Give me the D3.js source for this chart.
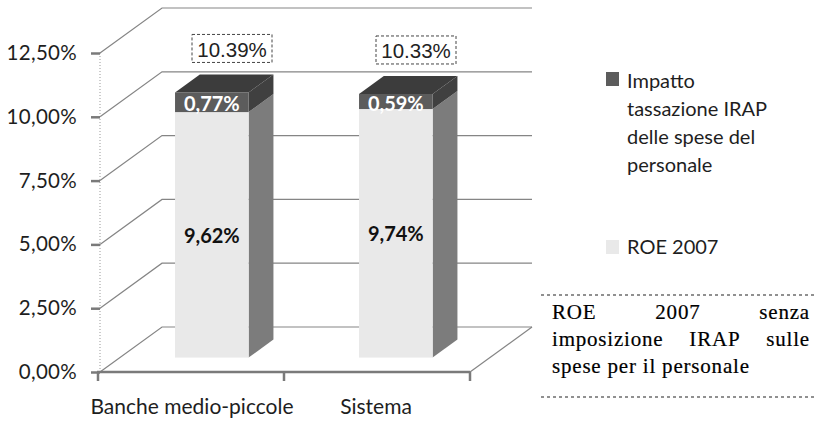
<!DOCTYPE html>
<html>
<head>
<meta charset="utf-8">
<script src="https://cdn.jsdelivr.net/npm/d3@7"></script>
<style>
  html, body { margin: 0; padding: 0; background: #fff; }
  svg { display: block; }
</style>
</head>
<body>
<svg id="chart" width="816" height="424"></svg>
<script>
// Data
const categories = ["Banche medio-piccole", "Sistema"];
const roe2007 = [9.62, 9.74];
const irapImpact = [0.77, 0.59];
const yTicks = [0, 2.5, 5, 7.5, 10, 12.5];
const legendIrap = ["Impatto", "tassazione IRAP", "delle spese del", "personale"];
const legendRoe = "ROE 2007";
const noteLines = [["ROE", "2007", "senza"], ["imposizione", "IRAP", "sulle"], ["spese per il personale"]];

const svg = d3.select("#chart");
const itLocale = d3.formatLocale({ decimal: ",", thousands: ".", grouping: [3], currency: ["", "€"] });
const fmtIt = v => itLocale.format(".2f")(v) + "%";
const fmtTotal = v => d3.format(".2f")(v) + "%";

// Scales (front plane)
const y = d3.scaleLinear().domain([0, 12.5]).range([372, 53]);
const x = d3.scaleBand().domain(categories).range([100, 468]).paddingInner(0);

// Depth projection of the 3D box
const DX = 62, DY = -45;
const proj = (px, py, d) => [px + DX * d, py + DY * d];
const dFront = 0.32, dBack = 0.72;
const barW = x.bandwidth() * 0.4;

const gridColor = "#858585";
const axisColor = "#7a7a7a";
const textColor = "#1e1e1e";

// Walls: gridlines running along the side wall and across the back wall
const grid = svg.append("g");
yTicks.forEach(t => {
  const a = proj(x.range()[0], y(t), 0);
  const b = proj(x.range()[0], y(t), 1);
  const c = [DX + 470, b[1]];
  grid.append("path")
    .attr("d", d3.line()([a, b, c]))
    .attr("fill", "none")
    .attr("stroke", gridColor)
    .attr("stroke-width", 1.2);
});
// Floor right edge
{
  const a = [x.range()[1] + 2, y(0)];
  const b = proj(x.range()[1] + 2, y(0), 1);
  grid.append("line")
    .attr("x1", a[0]).attr("y1", a[1]).attr("x2", b[0]).attr("y2", b[1])
    .attr("stroke", gridColor).attr("stroke-width", 1.2);
}
// Side wall front edge (dotted)
grid.append("line")
  .attr("x1", 100).attr("x2", 100)
  .attr("y1", y(12.5)).attr("y2", y(0))
  .attr("stroke", "#999").attr("stroke-width", 1)
  .attr("stroke-dasharray", "1,2");

// Bars
const colors = {
  roe: { front: "#e9e9e9", side: "#7c7c7c", top: "#d4d4d4" },
  irap: { front: "#5c5c5c", side: "#404040", top: "#3c3c3c" }
};
const bars = svg.append("g");
categories.forEach((cat, i) => {
  const cx = x(cat) + x.bandwidth() / 2;
  const x0 = cx - barW / 2, x1 = cx + barW / 2;
  const segs = [
    { key: "roe", v0: 0, v1: roe2007[i] },
    { key: "irap", v0: roe2007[i], v1: roe2007[i] + irapImpact[i] }
  ];
  segs.forEach((s, k) => {
    const c = colors[s.key];
    const fTL = proj(x0, y(s.v1), dFront), fTR = proj(x1, y(s.v1), dFront);
    const fBR = proj(x1, y(s.v0), dFront);
    const bTL = proj(x0, y(s.v1), dBack), bTR = proj(x1, y(s.v1), dBack);
    const bBR = proj(x1, y(s.v0), dBack);
    // side face
    bars.append("path").attr("d", d3.line()([fTR, bTR, bBR, fBR]) + "Z").attr("fill", c.side);
    // top face
    if (k === segs.length - 1) {
      bars.append("path").attr("d", d3.line()([fTL, fTR, bTR, bTL]) + "Z").attr("fill", c.top);
    }
    // front face
    bars.append("rect")
      .attr("x", fTL[0]).attr("y", fTL[1])
      .attr("width", fTR[0] - fTL[0]).attr("height", fBR[1] - fTR[1])
      .attr("fill", c.front);
  });

  // Segment labels
  const fx = proj(cx, 0, dFront)[0];
  bars.append("text")
    .attr("x", fx).attr("y", proj(0, y(roe2007[i] / 2), dFront)[1])
    .attr("text-anchor", "middle").attr("dominant-baseline", "central")
    .attr("font-family", "Lato, sans-serif").attr("font-weight", "bold")
    .attr("font-size", 20).attr("fill", "#111")
    .text(fmtIt(roe2007[i]));
  bars.append("text")
    .attr("x", fx).attr("y", proj(0, y(roe2007[i] + irapImpact[i] / 2), dFront)[1] + 1)
    .attr("text-anchor", "middle").attr("dominant-baseline", "central")
    .attr("font-family", "Lato, sans-serif").attr("font-weight", "bold")
    .attr("font-size", 20).attr("fill", "#fff")
    .text(fmtIt(irapImpact[i]));

  // Total label in a dashed box
  const total = roe2007[i] + irapImpact[i];
  const topBack = proj(cx, y(total), dBack);
  const bx = cx + 40, bh = 28, bw = 80;
  const by = topBack[1] - 12 - bh;
  bars.append("rect")
    .attr("x", bx - bw / 2).attr("y", by).attr("width", bw).attr("height", bh)
    .attr("fill", "#fff").attr("stroke", "#444").attr("stroke-width", 1)
    .attr("stroke-dasharray", "3,2");
  bars.append("text")
    .attr("x", bx).attr("y", by + bh / 2 + 1)
    .attr("text-anchor", "middle").attr("dominant-baseline", "central")
    .attr("font-family", "Liberation Sans, Arial, sans-serif")
    .attr("font-size", 20.5).attr("fill", "#222")
    .text(fmtTotal(total));
});

// Y axis
const yAxis = svg.append("g").attr("transform", "translate(100,0)")
  .call(d3.axisLeft(y).tickValues(yTicks).tickFormat(fmtIt).tickSize(9).tickPadding(14));
yAxis.select(".domain").remove();
yAxis.selectAll(".tick line").attr("stroke", axisColor).attr("stroke-width", 2.5);
yAxis.selectAll(".tick text")
  .attr("font-family", "Lato, sans-serif").attr("font-size", 20.5).attr("fill", textColor)
  .attr("letter-spacing", 0.3);

// X axis
const xAxis = svg.append("g").attr("transform", `translate(0,${y(0)})`)
  .call(d3.axisBottom(x).tickSize(0).tickPadding(27));
xAxis.select(".domain").remove();
xAxis.append("line")
  .attr("x1", 97).attr("x2", x.range()[1] + 2).attr("y1", 0).attr("y2", 0)
  .attr("stroke", axisColor).attr("stroke-width", 2.5);
[x.range()[0] - 2, x(categories[1]), x.range()[1] + 2].forEach(tx => {
  xAxis.append("line").attr("x1", tx).attr("x2", tx).attr("y1", 0).attr("y2", 9)
    .attr("stroke", axisColor).attr("stroke-width", 2.5);
});
xAxis.selectAll(".tick text")
  .attr("font-family", "Lato, sans-serif").attr("font-size", 21).attr("fill", textColor);

// Legend
const legend = svg.append("g");
legend.append("rect").attr("x", 606).attr("y", 72).attr("width", 13).attr("height", 14)
  .attr("fill", colors.irap.front);
legendIrap.forEach((t, k) => {
  legend.append("text").attr("x", 627).attr("y", 80 + k * 28)
    .attr("dominant-baseline", "central")
    .attr("font-family", "Lato, sans-serif").attr("font-size", 20).attr("fill", textColor)
    .text(t);
});
legend.append("rect").attr("x", 606).attr("y", 240).attr("width", 13).attr("height", 14)
  .attr("fill", colors.roe.front);
legend.append("text").attr("x", 627).attr("y", 246)
  .attr("dominant-baseline", "central")
  .attr("font-family", "Lato, sans-serif").attr("font-size", 20).attr("fill", textColor)
  .text(legendRoe);

// Note box with justified serif text
const note = svg.append("g");
[295, 397].forEach(ly => {
  note.append("line").attr("x1", 541).attr("x2", 816).attr("y1", ly).attr("y2", ly)
    .attr("stroke", "#222").attr("stroke-width", 1.2).attr("stroke-dasharray", "3,3");
});
const noteLeft = 552, noteRight = 810;
noteLines.forEach((words, k) => {
  const ly = 319 + k * 27;
  const texts = words.map(w => note.append("text")
    .attr("y", ly)
    .attr("font-family", "Liberation Serif, 'Times New Roman', serif")
    .attr("font-size", 21).attr("fill", "#000")
    .attr("stroke", "#000").attr("stroke-width", 0.2)
    .attr("letter-spacing", 0.8)
    .text(w));
  if (words.length === 1) {
    texts[0].attr("x", noteLeft);
    return;
  }
  const widths = texts.map(t => t.node().getComputedTextLength());
  const gap = (noteRight - noteLeft - d3.sum(widths)) / (words.length - 1);
  let cur = noteLeft;
  texts.forEach((t, j) => { t.attr("x", cur); cur += widths[j] + gap; });
});
</script>
</body>
</html>
